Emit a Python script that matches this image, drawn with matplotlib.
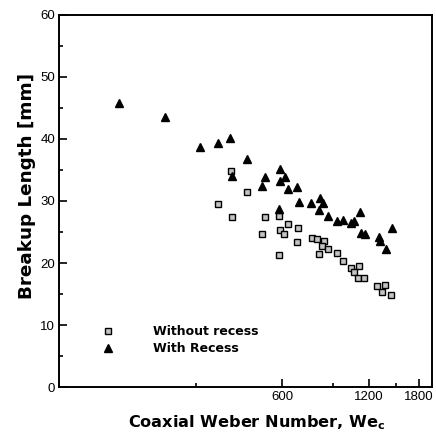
import matplotlib
matplotlib.use('Agg')
import matplotlib.pyplot as plt
from matplotlib.ticker import FixedLocator, NullFormatter, FixedFormatter

plt.rcParams['font.family'] = ['Liberation Sans', 'DejaVu Sans']
plt.rcParams['mathtext.fontset'] = 'dejavusans'

# Without recess (squares)
weNoRecess = [397, 452, 357, 401, 522, 586, 628, 682, 508, 587, 610, 675, 584,
              759, 793, 836, 825, 868, 806, 931, 977, 1041, 1116, 1064, 1107,
              1159, 1284, 1373, 1336, 1437]
lenNoRecess = [34.8, 31.5, 29.5, 27.4, 27.4, 27.5, 26.3, 25.7, 24.7, 25.3, 24.7,
               23.4, 21.3, 24.0, 23.9, 23.5, 22.7, 22.2, 21.5, 21.6, 20.3, 19.2,
               19.5, 18.5, 17.6, 17.6, 16.3, 16.5, 15.4, 14.9]

# With recess (triangles)
weRecess = [162, 233, 311, 358, 395, 452, 401, 589, 611, 589, 522, 508, 628, 675,
            686, 757, 814, 832, 806, 868, 931, 977, 1041, 1072, 1122, 1129, 1171,
            1305, 1318, 1376, 1444, 584]
lenRecess = [45.8, 43.5, 38.7, 39.3, 40.2, 36.7, 34.1, 35.2, 33.8, 33.2, 33.8,
             32.4, 31.9, 32.2, 29.9, 29.7, 30.5, 29.7, 28.5, 27.5, 26.7, 27.0,
             26.4, 26.8, 28.2, 24.8, 24.6, 24.2, 23.5, 22.3, 25.6, 28.7]

xMajor = [600, 1200, 1800]
xMinor = [300, 900, 1500]

fig = plt.figure(figsize=(4.36, 4.37), dpi=100)
ax = fig.add_axes([0.136, 0.1144, 0.855, 0.8513])

ax.plot(weNoRecess, lenNoRecess, linestyle='none', marker='s', markersize=4.8,
        markerfacecolor='#c4c4c4', markeredgecolor='black', markeredgewidth=1.0,
        label='Without recess')
ax.plot(weRecess, lenRecess, linestyle='none', marker='^', markersize=6.2,
        color='black', label='With Recess')

ax.set_xscale('log')
ax.set_xlim(100, 2000)
ax.set_ylim(0, 60)
ax.xaxis.set_major_locator(FixedLocator(xMajor))
ax.xaxis.set_major_formatter(FixedFormatter([str(v) for v in xMajor]))
ax.xaxis.set_minor_locator(FixedLocator(xMinor))
ax.xaxis.set_minor_formatter(NullFormatter())
ax.set_yticks(range(0, 61, 10))
ax.set_yticks(range(5, 60, 10), minor=True)

ax.tick_params(which='both', direction='in', top=False, right=False,
               labelsize=9.5, width=1.2)
ax.tick_params(which='major', length=6, pad=3)
ax.tick_params(which='minor', length=3)
for s in ax.spines.values():
    s.set_linewidth(1.4)

ax.set_xlabel(r'Coaxial Weber Number, We$_\mathbf{c}$', fontsize=11.6,
              fontweight='bold', family='DejaVu Sans')
ax.set_ylabel('Breakup Length [mm]', fontsize=13.2, fontweight='bold',
              family='DejaVu Sans')
ax.xaxis.set_label_coords(0.53, -0.07)
ax.yaxis.set_label_coords(-0.062, 0.54)

leg = ax.legend(loc='lower left', bbox_to_anchor=(0.085, 0.055), frameon=False,
                prop={'weight': 'bold', 'size': 9, 'family': 'DejaVu Sans'},
                handletextpad=3.1, labelspacing=0.35, handlelength=1.0)

fig.savefig('out.png', dpi=100)
